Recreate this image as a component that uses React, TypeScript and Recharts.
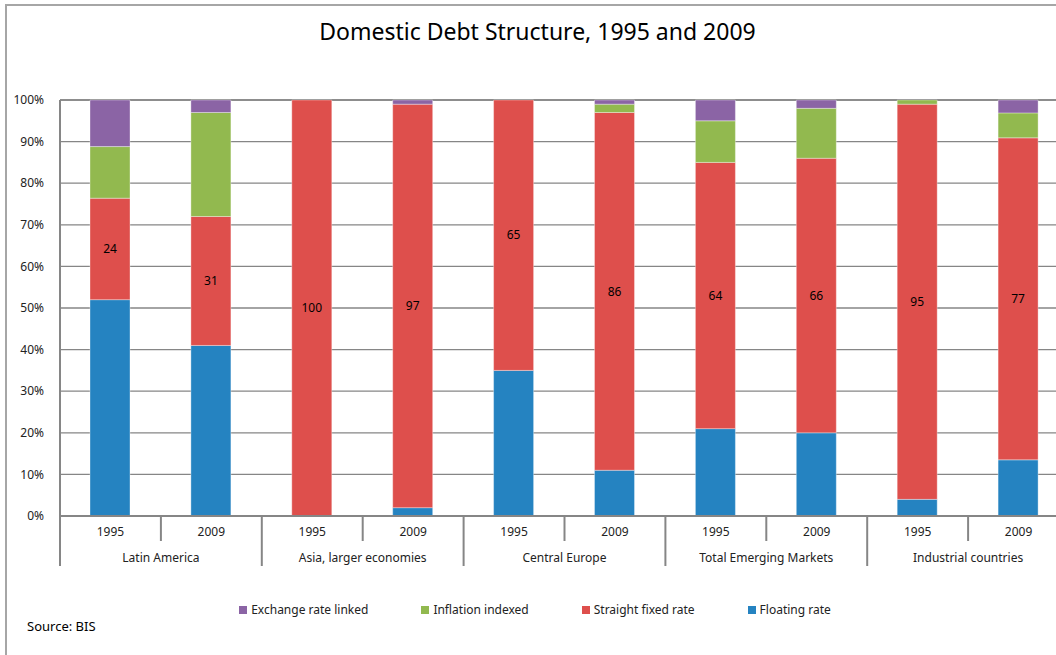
import { Bar, BarChart, CartesianGrid, LabelList, Legend, XAxis, YAxis } from "recharts";

const groups = [
  "Latin America",
  "Asia, larger economies",
  "Central Europe",
  "Total Emerging  Markets",
  "Industrial countries",
];
const years = ["1995", "2009"];

// shares in %, bar order: group x year
const floating = [52, 41, 0, 2, 35, 11, 21, 20, 4, 13.5];
const fixedRate = [24.4, 31, 100, 97, 65, 86, 64, 66, 95, 77.4];
const inflation = [12.4, 25, 0, 0, 0, 2, 10, 12, 1, 6];
const exchange = [11.2, 3, 0, 1, 0, 1, 5, 2, 0, 3.1];
const yTicks = [0, 10, 20, 30, 40, 50, 60, 70, 80, 90, 100];

const data = floating.map((v, i) => ({
  group: groups[Math.floor(i / 2)],
  year: years[i % 2],
  floating: v,
  fixed: fixedRate[i],
  inflation: inflation[i],
  exchange: exchange[i],
}));

const series = [
  { key: "floating", name: "Floating rate", color: "#2583C1" },
  { key: "fixed", name: "Straight fixed rate", color: "#DE4F4C" },
  { key: "inflation", name: "Inflation indexed", color: "#92B94F" },
  { key: "exchange", name: "Exchange rate linked", color: "#8B64A5" },
];

const W = 1080;
const H = 655;
const M = { top: 100, right: 11, left: 0, bottom: 89 };
const Y_W = 60;
const plotW = W - M.left - M.right - Y_W;
const band = plotW / data.length;
const GRID = "#868686";
const FONT = "'Noto Sans', 'Open Sans', sans-serif";

function TwoLevelTick(props: any) {
  const { x, y, index, payload } = props;
  const top = y - 8;
  const even = index % 2 === 0;
  return (
    <g>
      <text x={x} y={top + 20} textAnchor="middle" fontSize={12} fill="#222" fontFamily={FONT}>
        {payload.value}
      </text>
      {even && (
        <>
          <line x1={x + band / 2} x2={x + band / 2} y1={top} y2={top + 25} stroke={GRID} strokeWidth={2} />
          <line x1={x - band / 2} x2={x - band / 2} y1={top} y2={top + 50} stroke={GRID} strokeWidth={2} />
          <text x={x + band / 2} y={top + 46} textAnchor="middle" fontSize={12} fill="#222" fontFamily={FONT}>
            {data[index].group}
          </text>
        </>
      )}
      {index === data.length - 1 && (
        <line x1={x + band / 2} x2={x + band / 2} y1={top} y2={top + 50} stroke={GRID} strokeWidth={2} />
      )}
    </g>
  );
}

function LegendBox() {
  const items = [...series].reverse();
  return (
    <div style={{ display: "flex", justifyContent: "center", gap: 53, fontFamily: FONT, fontSize: 12, color: "#222" }}>
      {items.map((s) => (
        <div key={s.key} style={{ display: "flex", alignItems: "center", gap: 4 }}>
          <span style={{ width: 8, height: 8, background: s.color, display: "inline-block" }} />
          <span>{s.name}</span>
        </div>
      ))}
    </div>
  );
}

export default function App() {
  return (
    <div style={{ position: "absolute", left: 0, top: 0, width: 1056, height: 655, overflow: "hidden", background: "#fff" }}>
      <div
        style={{
          position: "absolute",
          left: 5,
          top: 4,
          width: 1200,
          height: 800,
          border: "2px solid #a6a6a6",
        }}
      />
      <div
        style={{
          position: "absolute",
          left: 0,
          width: 1075,
          top: 15,
          textAlign: "center",
          fontFamily: FONT,
          fontSize: 23,
          color: "#000",
        }}
      >
        Domestic Debt Structure, 1995 and 2009
      </div>
      <div style={{ position: "absolute", left: 0, top: 0 }}>
        <BarChart width={W} height={H} data={data} margin={M}>
          <CartesianGrid vertical={false} stroke={GRID} strokeWidth={1.3} />
          <XAxis
            dataKey="year"
            interval={0}
            height={50}
            tickLine={false}
            axisLine={{ stroke: GRID, strokeWidth: 2 }}
            tick={<TwoLevelTick />}
          />
          <YAxis
            width={Y_W}
            domain={[0, 100]}
            ticks={yTicks}
            tickFormatter={(v: number) => `${v}%`}
            tickLine={false}
            axisLine={{ stroke: GRID, strokeWidth: 2 }}
            tick={{ fontSize: 12, fill: "#222", fontFamily: FONT }}
            tickMargin={10}
          />
          {series.map((s) => (
            <Bar
              key={s.key}
              dataKey={s.key}
              name={s.name}
              stackId="a"
              fill={s.color}
              barSize={40}
              stroke="#ffffff"
              strokeOpacity={0.35}
              isAnimationActive={false}
            >
              {s.key === "fixed" && (
                <LabelList
                  dataKey="fixed"
                  position="center"
                  fill="#000"
                  fontSize={12}
                  fontFamily={FONT}
                  formatter={(v: number) => Math.round(v)}
                />
              )}
            </Bar>
          ))}
          <Legend
            verticalAlign="middle"
            align="center"
            content={() => <LegendBox />}
            wrapperStyle={{ top: 601, left: 0, width: 1070 }}
          />
        </BarChart>
      </div>
      <div style={{ position: "absolute", left: 27, top: 617, fontFamily: FONT, fontSize: 13, color: "#000" }}>
        Source: BIS
      </div>
    </div>
  );
}
